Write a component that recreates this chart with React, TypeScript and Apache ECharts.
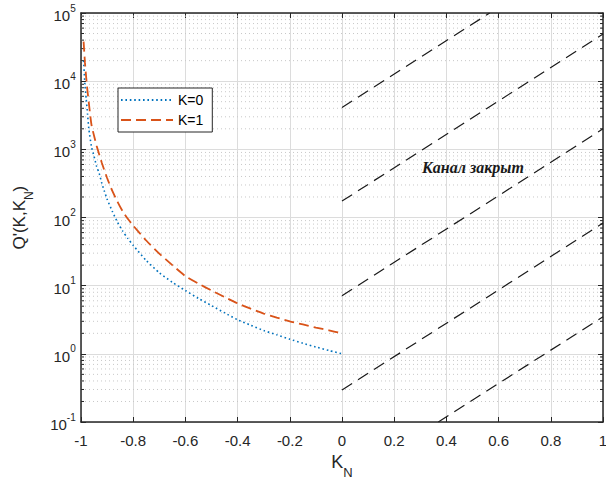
import React, { useEffect, useRef } from "react";
import * as echarts from "echarts";

// K = 0 curve (blue dotted)
const k0X = [-0.99, -0.985, -0.98, -0.975, -0.97, -0.96, -0.95, -0.94, -0.93, -0.92, -0.91, -0.9, -0.88, -0.86, -0.84, -0.82, -0.8, -0.75, -0.7, -0.65, -0.6, -0.55, -0.5, -0.45, -0.4, -0.35, -0.3, -0.25, -0.2, -0.15, -0.1, -0.05, 0];
const k0Y = [20000, 8900, 5500, 3300, 2000, 1100, 790, 560, 440, 316, 240, 186, 123, 85, 63, 49, 39, 23.4, 15.5, 11.2, 8.5, 6.5, 5.1, 4.0, 3.16, 2.63, 2.2, 1.9, 1.64, 1.43, 1.26, 1.12, 1.0];

// K = 1 curve (orange dashed)
const k1X = [-0.99, -0.985, -0.98, -0.975, -0.97, -0.96, -0.95, -0.94, -0.92, -0.9, -0.88, -0.86, -0.84, -0.82, -0.8, -0.75, -0.7, -0.65, -0.6, -0.55, -0.5, -0.45, -0.4, -0.35, -0.3, -0.25, -0.2, -0.15, -0.1, -0.05, 0];
const k1Y = [38000, 19000, 11200, 7100, 4800, 2300, 1580, 1120, 630, 380, 245, 170, 123, 95, 76, 46, 29.5, 20, 13.8, 10.7, 8.5, 6.8, 5.5, 4.6, 3.9, 3.4, 3.0, 2.7, 2.43, 2.21, 2.0];

// "channel closed" region: straight lines (on log scale), start / end points
const closedStartX = [0, 0, 0, 0, 0.369];
const closedStartY = [4110, 174, 7.1, 0.294, 0.1];
const closedEndX = [0.566, 1, 1, 1, 1];
const closedEndY = [100000, 49000, 2000, 83, 3.5];

const seriesNames = ["K=0", "K=1"];
const xTickLabels = ["-1", "-0.8", "-0.6", "-0.4", "-0.2", "0", "0.2", "0.4", "0.6", "0.8", "1"];
const annotation = "Канал закрыт";

const X_MIN = -1;
const X_MAX = 1;
const Y_MIN = 0.1;
const Y_MAX = 100000;

const AXIS_COLOR = "#262626";
const FONT = "'Liberation Sans', Arial, Helvetica, sans-serif";

export default function App() {
  const ref = useRef<HTMLDivElement>(null);

  useEffect(() => {
    if (!ref.current) return;
    const chart = echarts.init(ref.current, undefined, { renderer: "svg" });

    // minor grid values 2..9 per decade
    const minor: number[][] = [];
    for (let e = -1; e <= 4; e++) {
      for (let m = 2; m <= 9; m++) {
        minor.push([0, m * Math.pow(10, e)]);
      }
    }

    const closedSeries = closedStartX.map((sx, i) => ({
      type: "line",
      name: "closed" + i,
      data: [
        [sx, closedStartY[i]],
        [closedEndX[i], closedEndY[i]],
      ],
      showSymbol: false,
      symbol: "none",
      clip: true,
      silent: true,
      z: 4,
      lineStyle: { color: "#1a1a1a", width: 1.2, type: [12, 7] },
    }));

    const option: any = {
      animation: false,
      backgroundColor: "#ffffff",
      grid: { left: 81, right: 3, top: 13, bottom: 59, containLabel: false, outerBoundsMode: "none" },
      legend: {
        data: seriesNames,
        orient: "vertical",
        left: 118,
        top: 88,
        padding: [5, 9, 5, 2],
        itemGap: 6,
        itemWidth: 52,
        itemHeight: 14,
        itemStyle: { opacity: 0 },
        borderColor: AXIS_COLOR,
        borderWidth: 1,
        backgroundColor: "#ffffff",
        textStyle: { fontFamily: FONT, fontSize: 14, color: "#000000" },
        z: 10,
      },
      xAxis: [
        {
          type: "value",
          min: X_MIN,
          max: X_MAX,
          interval: 0.2,
          position: "bottom",
          axisLine: { show: true, onZero: false, lineStyle: { color: AXIS_COLOR, width: 1.5 } },
          axisTick: { show: true, inside: true, length: 5, lineStyle: { color: AXIS_COLOR } },
          splitLine: { show: true, lineStyle: { color: "#dcdcdc", width: 1 } },
          axisLabel: {
            color: AXIS_COLOR,
            fontFamily: FONT,
            fontSize: 15,
            margin: 11,
            formatter: (v: number) => xTickLabels[Math.round((v - X_MIN) / 0.2)] ?? "",
          },
          name: "{k|K}{n|N}{sp| }",
          nameLocation: "middle",
          nameGap: 30,
          nameTextStyle: {
            rich: {
              k: { fontFamily: FONT, fontSize: 18, lineHeight: 18, color: AXIS_COLOR, verticalAlign: "top" },
              n: { fontFamily: FONT, fontSize: 13, lineHeight: 13, color: AXIS_COLOR, verticalAlign: "bottom" },
              sp: { fontSize: 1, lineHeight: 26, verticalAlign: "middle" },
            },
          },
        },
        {
          type: "value",
          min: X_MIN,
          max: X_MAX,
          interval: 0.2,
          position: "top",
          axisLine: { show: true, onZero: false, lineStyle: { color: AXIS_COLOR, width: 1.5 } },
          axisTick: { show: true, inside: true, length: 5, lineStyle: { color: AXIS_COLOR } },
          splitLine: { show: false },
          axisLabel: { show: false },
        },
      ],
      yAxis: [
        {
          type: "log",
          logBase: 10,
          min: Y_MIN,
          max: Y_MAX,
          splitNumber: 6,
          position: "left",
          axisLine: { show: true, onZero: false, lineStyle: { color: AXIS_COLOR, width: 1.5 } },
          axisTick: { show: true, inside: true, length: 5, lineStyle: { color: AXIS_COLOR } },
          splitLine: { show: true, lineStyle: { color: "#dcdcdc", width: 1 } },
          axisLabel: {
            margin: 5,
            formatter: (v: number) => {
              const e = Math.round(Math.log10(v));
              return "{b|10}{s|" + e + "}{sp| }";
            },
            rich: {
              b: { fontFamily: FONT, fontSize: 15, lineHeight: 15, color: AXIS_COLOR, verticalAlign: "bottom" },
              s: { fontFamily: FONT, fontSize: 10, lineHeight: 10, color: AXIS_COLOR, verticalAlign: "top" },
              sp: { fontSize: 1, lineHeight: 20, verticalAlign: "middle" },
            },
          },
          name: "{a|Q'(K,K}{n|N}{a|)}{sp| }",
          nameLocation: "middle",
          nameGap: 46,
          nameRotate: 90,
          nameTextStyle: {
            rich: {
              a: { fontFamily: FONT, fontSize: 17, lineHeight: 17, color: AXIS_COLOR, verticalAlign: "top" },
              n: { fontFamily: FONT, fontSize: 12, lineHeight: 12, color: AXIS_COLOR, verticalAlign: "bottom" },
              sp: { fontSize: 1, lineHeight: 24, verticalAlign: "middle" },
            },
          },
        },
        {
          type: "log",
          logBase: 10,
          min: Y_MIN,
          max: Y_MAX,
          splitNumber: 6,
          position: "right",
          axisLine: { show: true, onZero: false, lineStyle: { color: AXIS_COLOR, width: 1.5 } },
          axisTick: { show: true, inside: true, length: 5, lineStyle: { color: AXIS_COLOR } },
          splitLine: { show: false },
          axisLabel: { show: false },
        },
      ],
      series: [
        {
          type: "custom",
          name: "minorGrid",
          coordinateSystem: "cartesian2d",
          xAxisIndex: 0,
          yAxisIndex: 0,
          silent: true,
          clip: true,
          z: 1,
          encode: { x: 0, y: 1 },
          data: minor,
          renderItem: (params: any, api: any) => {
            const v = api.value(1);
            const p1 = api.coord([X_MIN, v]);
            const p2 = api.coord([X_MAX, v]);
            return {
              type: "group",
              children: [
                {
                  type: "line",
                  shape: { x1: p1[0], y1: p1[1], x2: p2[0], y2: p2[1] },
                  style: { stroke: "#c8c8c8", lineWidth: 1, lineDash: [1, 3] },
                },
                {
                  type: "line",
                  shape: { x1: p1[0], y1: p1[1], x2: p1[0] + 3, y2: p1[1] },
                  style: { stroke: AXIS_COLOR, lineWidth: 1 },
                },
                {
                  type: "line",
                  shape: { x1: p2[0] - 3, y1: p2[1], x2: p2[0], y2: p2[1] },
                  style: { stroke: AXIS_COLOR, lineWidth: 1 },
                },
              ],
            };
          },
        },
        {
          type: "line",
          name: seriesNames[0],
          data: k0X.map((x, i) => [x, k0Y[i]]),
          showSymbol: false,
          symbol: "none",
          smooth: 0.2,
          clip: true,
          z: 5,
          color: "#0072BD",
          lineStyle: { color: "#0072BD", width: 1.6, type: [1.6, 2.8] },
        },
        {
          type: "line",
          name: seriesNames[1],
          data: k1X.map((x, i) => [x, k1Y[i]]),
          showSymbol: false,
          symbol: "none",
          smooth: 0.2,
          clip: true,
          z: 5,
          color: "#D95319",
          lineStyle: { color: "#D95319", width: 1.8, type: [10, 5] },
        },
        ...closedSeries,
      ],
      graphic: [
        {
          type: "text",
          left: 422,
          top: 159,
          z: 20,
          style: {
            text: annotation,
            font: "italic bold 16px 'Liberation Serif', 'Times New Roman', serif",
            fill: "#1a1a1a",
          },
        },
      ],
    };

    chart.setOption(option);
    return () => chart.dispose();
  }, []);

  return (
    <div
      ref={ref}
      style={{ position: "fixed", left: 0, top: 0, width: 606, height: 481, background: "#fff" }}
    />
  );
}
